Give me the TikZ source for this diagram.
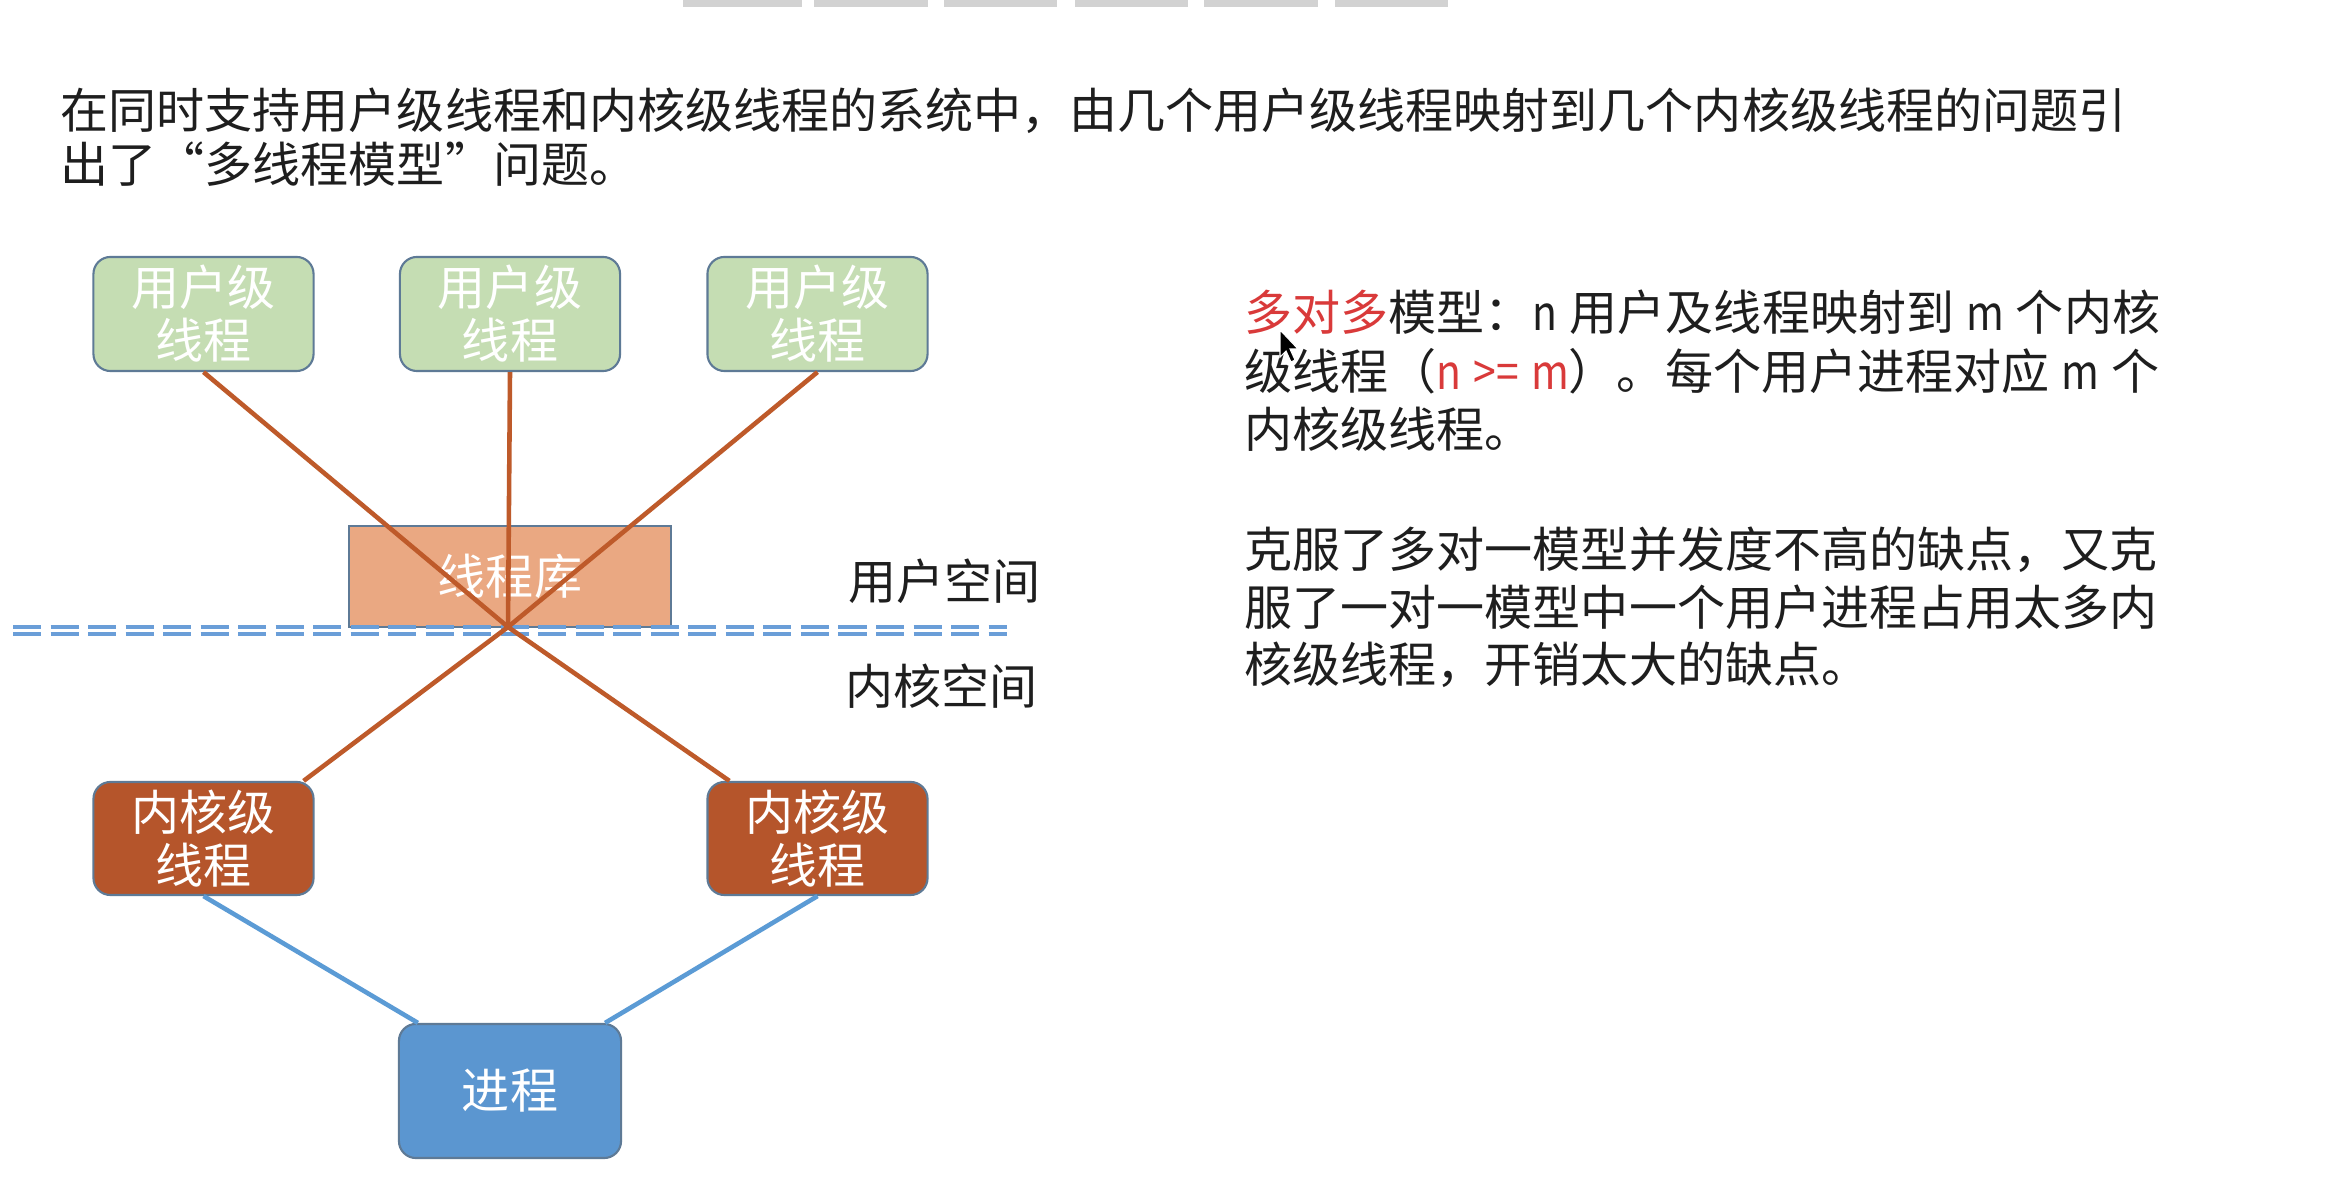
\documentclass[tikz,border=0pt]{standalone}
\usepackage{fontspec}
\setmainfont{Noto Sans CJK SC}
\newfontfamily\cjk{Noto Sans CJK SC}
\newcommand\bxfont{\cjk\fontsize{13.66pt}{15.1pt}\selectfont}
\newcommand\lat[1]{\scalebox{0.85}[1]{#1}}
\newcommand\latsp{\hspace{0.25em}}
\definecolor{boxedge}{HTML}{5E7A96}
\definecolor{userfill}{HTML}{C5DDB3}
\definecolor{libfill}{HTML}{EAA882}
\definecolor{kernfill}{HTML}{B5552B}
\definecolor{procfill}{HTML}{5B96D0}
\definecolor{orangeline}{HTML}{BE5A2A}
\definecolor{blueline}{HTML}{5B9BD5}
\definecolor{dashblue}{HTML}{6A9ED8}
\definecolor{hlred}{HTML}{D93A3A}
\definecolor{txt}{HTML}{1E1E1E}
\begin{document}
\begin{tikzpicture}[x=0.01cm,y=-0.01cm,
  box/.style={draw=boxedge, line width=0.6pt, rounded corners=0.17cm, align=center,
    text=white, font=\bxfont, inner sep=0pt},
  userbox/.style={box, fill=userfill, minimum width=2.2cm, minimum height=1.14cm},
  kernbox/.style={box, fill=kernfill, minimum width=2.2cm, minimum height=1.13cm},
  procbox/.style={box, fill=procfill, minimum width=2.22cm, minimum height=1.34cm},
  libbox/.style={draw=boxedge, line width=0.6pt, fill=libfill, text=white, font=\bxfont,
    inner sep=0pt, minimum width=3.22cm, minimum height=1.01cm},
  thr/.style={draw=orangeline, line width=1.3pt},
  proc/.style={draw=blueline, line width=1.3pt},
  label/.style={anchor=base west, inner sep=0pt, text=txt, font=\bxfont},
  divider/.style={draw=dashblue, line width=0.95pt, dash pattern=on 0.28cm off 0.095cm}
]
\useasboundingbox[fill=white] (0,0) rectangle (2328,1177);

% screen toolbar remnants at top
\foreach \a/\b in {683/802,814/928,944/1057,1075/1188,1204/1318,1335/1448}
  \fill[gray!35] (\a,0) rectangle (\b,7);

% header text
\node[label] (t1) at (60,129) {在同时支持用户级线程和内核级线程的系统中，由几个用户级线程映射到几个内核级线程的问题引};
\node[label] (t2) at (60,183) {出了“多线程模型”问题。};

% boxes
\node[userbox] (u1) at (203.5,314) {用户级\\线程};
\node[userbox] (u2) at (510,314) {用户级\\线程};
\node[userbox] (u3) at (817.5,314) {用户级\\线程};
\node[libbox] (lib) at (510,576.5) {线程库};
\node[kernbox] (k1) at (203.5,838.5) {内核级\\线程};
\node[kernbox] (k2) at (817.5,838.5) {内核级\\线程};
\node[procbox] (p) at (510,1091) {进程};

% user/kernel divider
\draw[divider] (13,627) -- (1007,627);
\draw[divider] (13,634) -- (1007,634);

\node[label] (us) at (848,600) {用户空间};
\node[label] (ks) at (845,705) {内核空间};

% mapping lines
\coordinate (X) at (508,627);
\draw[thr] (u1.south) -- (X) -- ([xshift=0.23cm]k2.north west);
\draw[thr] (u3.south) -- (X) -- ([xshift=-0.11cm]k1.north east);
\draw[thr] (u2.south) -- (X);
\draw[proc] (k1.south) -- ([xshift=0.2cm]p.north west);
\draw[proc] (k2.south) -- ([xshift=-0.17cm]p.north east);

% right-hand text
\node[label] (r1) at (1244,331) {\textcolor{hlred}{多对多}模型：\lat{n}\latsp 用户及线程映射到\latsp\lat{m}\latsp 个内核};
\node[label] (r2) at (1244,390) {级线程（\textcolor{hlred}{\lat{n}\latsp\lat{>=}\latsp\lat{m}}）。每个用户进程对应\latsp\lat{m}\latsp 个};
\node[label] (r3) at (1244,448) {内核级线程。};
\node[label] (r4) at (1244,568) {克服了多对一模型并发度不高的缺点，又克};
\node[label] (r5) at (1244,626) {服了一对一模型中一个用户进程占用太多内};
\node[label] (r6) at (1244,683) {核级线程，开销太大的缺点。};

% mouse pointer
\filldraw[fill=black, draw=white, line width=0.3pt]
  (1280,330) -- (1280,357) -- (1286,351) -- (1291,362) -- (1295,360) -- (1290,349) -- (1298,349) -- cycle;
\end{tikzpicture}
\end{document}
